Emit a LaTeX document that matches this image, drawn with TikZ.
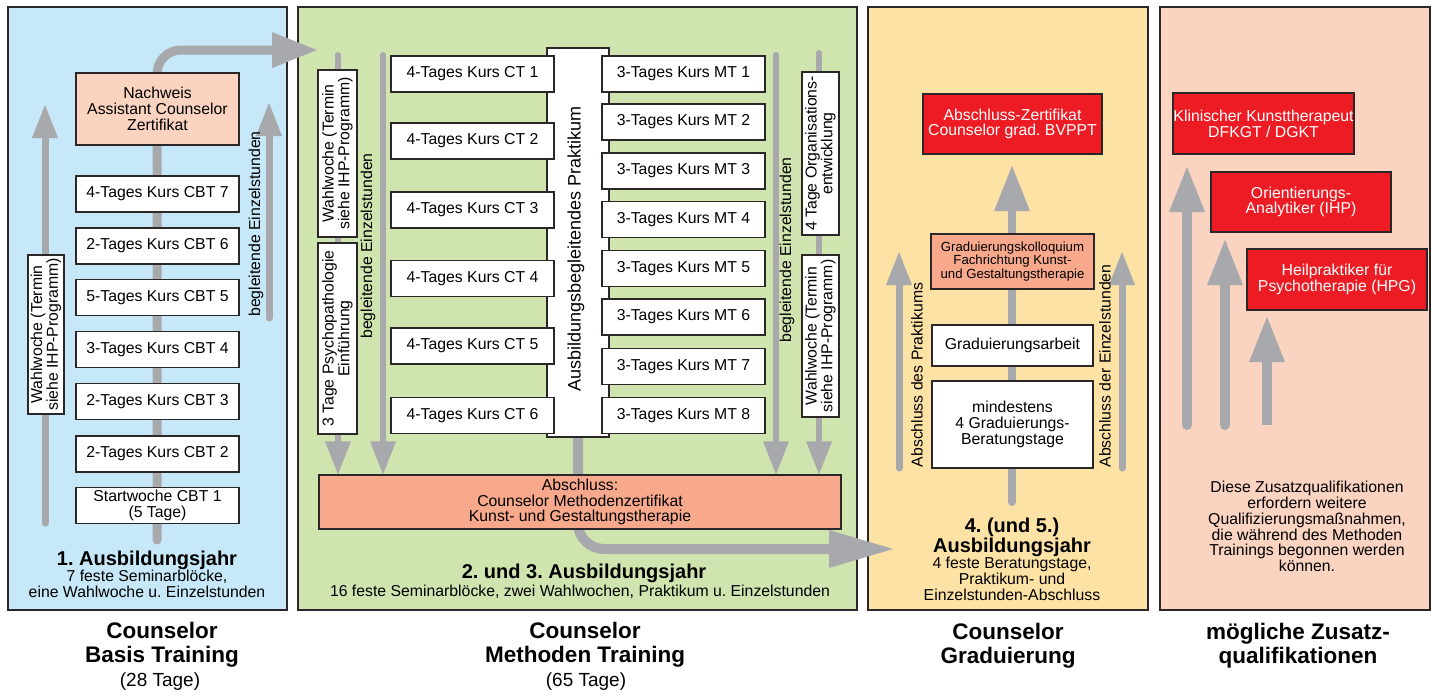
\documentclass[tikz,border=0pt]{standalone}
\usepackage{fontspec}
\setmainfont{Liberation Sans}
\usetikzlibrary{arrows.meta}
\pgfdeclarelayer{panels}
\pgfdeclarelayer{flows}
\pgfsetlayers{panels,flows,main}
\definecolor{bc}{HTML}{2B2728}
\definecolor{blueP}{HTML}{C6E8F9}
\definecolor{greenP}{HTML}{D0E4AF}
\definecolor{yellowP}{HTML}{FDE2A6}
\definecolor{peachP}{HTML}{FAD3C1}
\definecolor{salmon}{HTML}{F8A98C}
\definecolor{redB}{HTML}{ED1C24}
\definecolor{flow}{HTML}{A7A9AC}
\newcommand\fsN{\fontsize{15.8}{15.8}\selectfont}
\newcommand\fsS{\fontsize{13.2}{13.7}\selectfont}
\newcommand\fsP{\fontsize{18}{20}\selectfont}
\newcommand\fsH{\bfseries\fontsize{20}{20}\selectfont}
\newcommand\fsT{\bfseries\fontsize{22.5}{24}\selectfont}
\newcommand\fsD{\fontsize{19}{24}\selectfont}
\newcommand\fsB{\fontsize{15.8}{16}\selectfont}
\frenchspacing
\begin{document}
\frenchspacing
\begin{tikzpicture}[x=1pt,y=-1pt,
  panel/.style={draw=bc,line width=1.5pt,inner sep=0pt},
  box/.style={draw=bc,line width=1.4pt,inner sep=0pt,align=center,font=\fsN,fill=white},
  cbox/.style={box,minimum width=163pt,minimum height=36pt},
  rbox/.style={box,rotate=90},
  redbox/.style={box,fill=redB,text=white},
  salbox/.style={box,fill=salmon},
  lbl/.style={font=\fsN,align=center,inner sep=0pt},
  rlbl/.style={lbl,rotate=90},
  flowline/.style={draw=flow,line width=#1,line cap=round},
  tipS/.style={-{Triangle[length=33pt,width=26pt,line width=0pt]}},
  tipM/.style={-{Triangle[length=45pt,width=36pt,line width=0pt]}},
  tipL/.style={-{Triangle[length=64pt,width=38pt,line width=0pt]}},
]
\useasboundingbox (0,0) rectangle (1432,697);

\begin{pgfonlayer}{panels}
\node[panel,fill=blueP,minimum width=279pt,minimum height=603pt] (p1) at (147.5,308.5) {};
\node[panel,fill=greenP,minimum width=559pt,minimum height=603pt] (p2) at (577.5,308.5) {};
\node[panel,fill=yellowP,minimum width=280pt,minimum height=603pt] (p3) at (1008,308.5) {};
\node[panel,fill=peachP,minimum width=270pt,minimum height=603pt] (p4) at (1295,308.5) {};
\end{pgfonlayer}

% ---------- panel 1
\node[box,fill=peachP,minimum width=163pt,minimum height=72pt] (nach) at (157.5,109) {Nachweis\\Assistant Counselor\\Zertifikat};
\node[cbox] (cbt7) at (157.5,194) {4-Tages Kurs CBT 7};
\node[cbox] (cbt6) at (157.5,246) {2-Tages Kurs CBT 6};
\node[cbox] (cbt5) at (157.5,297.5) {5-Tages Kurs CBT 5};
\node[cbox] (cbt4) at (157.5,349.5) {3-Tages Kurs CBT 4};
\node[cbox] (cbt3) at (157.5,401.5) {2-Tages Kurs CBT 3};
\node[cbox] (cbt2) at (157.5,454) {2-Tages Kurs CBT 2};
\node[cbox] (cbt1) at (157.5,505.5) {Startwoche CBT 1\\(5 Tage)};
\node[rbox,minimum width=159pt,minimum height=36pt] (wahl1) at (46,334.5) {Wahlwoche (Termin\\siehe IHP-Programm)};
\node[rlbl] (beg1) at (256,224) {begleitende Einzelstunden};
\node[lbl,font=\fsH] (jahr1) at (147,560) {1. Ausbildungsjahr};
\node[lbl,font=\fsB] (jahr1s) at (147,584) {7 feste Seminarblöcke,\\eine Wahlwoche u. Einzelstunden};
\node[lbl,font=\fsT] (ti1) at (162,645) {Counselor\\Basis Training};
\node[lbl,font=\fsD] (ti1d) at (160,682) {(28 Tage)};

% ---------- panel 2
\node[rbox,minimum width=167pt,minimum height=39pt] (wahl2) at (337.5,153.5) {Wahlwoche (Termin\\siehe IHP-Programm)};
\node[rbox,minimum width=191pt,minimum height=39pt] (psych) at (337.5,338.5) {3 Tage Psychopathologie\\Einführung};
\node[box,minimum width=62pt,minimum height=389pt] (prak) at (578,242.5) {};
\node[rlbl,font=\fsP] (praktxt) at (576,249) {Ausbildungsbegleitendes Praktikum};
\node[cbox] (ct1) at (472.5,74) {4-Tages Kurs CT 1};
\node[cbox] (ct2) at (472.5,141) {4-Tages Kurs CT 2};
\node[cbox] (ct3) at (472.5,210) {4-Tages Kurs CT 3};
\node[cbox] (ct4) at (472.5,278.5) {4-Tages Kurs CT 4};
\node[cbox] (ct5) at (472.5,346) {4-Tages Kurs CT 5};
\node[cbox] (ct6) at (472.5,415.5) {4-Tages Kurs CT 6};
\node[cbox] (mt1) at (683.5,74) {3-Tages Kurs MT 1};
\node[cbox] (mt2) at (683.5,122) {3-Tages Kurs MT 2};
\node[cbox] (mt3) at (683.5,171) {3-Tages Kurs MT 3};
\node[cbox] (mt4) at (683.5,219.5) {3-Tages Kurs MT 4};
\node[cbox] (mt5) at (683.5,268.5) {3-Tages Kurs MT 5};
\node[cbox] (mt6) at (683.5,317) {3-Tages Kurs MT 6};
\node[cbox] (mt7) at (683.5,366.5) {3-Tages Kurs MT 7};
\node[cbox] (mt8) at (683.5,415.5) {3-Tages Kurs MT 8};
\node[rbox,minimum width=163pt,minimum height=37pt] (org) at (820.5,153.5) {4 Tage Organisations-\\entwicklung};
\node[rbox,minimum width=162pt,minimum height=37pt] (wahl3) at (820.5,336) {Wahlwoche (Termin\\siehe IHP-Programm)};
\node[salbox,minimum width=522pt,minimum height=54pt] (abs) at (580,502) {Abschluss:\\Counselor Methodenzertifikat\\Kunst- und Gestaltungstherapie};
\node[rlbl] (beg2) at (368,246) {begleitende Einzelstunden};
\node[rlbl] (beg3) at (787,250) {begleitende Einzelstunden};
\node[lbl,font=\fsH] (jahr2) at (584,573) {2. und 3. Ausbildungsjahr};
\node[lbl,font=\fsB] (jahr2s) at (580,592) {16 feste Seminarblöcke, zwei Wahlwochen, Praktikum u. Einzelstunden};
\node[lbl,font=\fsT] (ti2) at (585,645) {Counselor\\Methoden Training};
\node[lbl,font=\fsD] (ti2d) at (586,682) {(65 Tage)};

% ---------- panel 3
\node[redbox,minimum width=179pt,minimum height=60pt] (zert) at (1012.5,124) {Abschluss-Zertifikat\\Counselor grad. BVPPT};
\node[salbox,font=\fsS,minimum width=163pt,minimum height=55pt] (koll) at (1012.5,261.5) {Graduierungskolloquium\\Fachrichtung Kunst-\\und Gestaltungstherapie};
\node[box,minimum width=161pt,minimum height=41pt] (arb) at (1012.5,345.5) {Graduierungsarbeit};
\node[box,font=\fsB,minimum width=161pt,minimum height=87pt] (mind) at (1012.5,424.5) {mindestens\\4 Graduierungs-\\Beratungstage};
\node[rlbl] (absP) at (917,375) {Abschluss des Praktikums};
\node[rlbl] (absE) at (1105,366) {Abschluss der Einzelstunden};
\node[lbl,font=\fsH] (jahr3) at (1012,537) {4. (und 5.)\\Ausbildungsjahr};
\node[lbl,font=\fsB] (jahr3s) at (1012,579) {4 feste Beratungstage,\\Praktikum- und\\Einzelstunden-Abschluss};
\node[lbl,font=\fsT] (ti3) at (1008,646) {Counselor\\Graduierung};

% ---------- panel 4
\node[redbox,minimum width=181pt,minimum height=61pt] (klin) at (1263.5,123.5) {Klinischer Kunsttherapeut\\DFKGT / DGKT};
\node[redbox,minimum width=180pt,minimum height=60pt] (orient) at (1301,202) {Orientierungs-\\Analytiker (IHP)};
\node[redbox,minimum width=180pt,minimum height=61pt] (heil) at (1337,279.5) {Heilpraktiker für\\Psychotherapie (HPG)};
\node[lbl] (zus) at (1307,526.5) {Diese Zusatzqualifikationen\\erfordern weitere\\Qualifizierungsmaßnahmen,\\die während des Methoden\\Trainings begonnen werden\\können.};
\node[lbl,font=\fsT] (ti4) at (1298,646) {mögliche Zusatz-\\qualifikationen};

% ---------- flows
\begin{pgfonlayer}{flows}
\coordinate (f1s) at (157,540);
\coordinate (f1e) at (317,50);
\draw[flowline=9pt,rounded corners=24pt,tipM] (f1s) |- (f1e);
\coordinate (l1s) at (45,523);
\coordinate (l1e) at (45,105);
\draw[flowline=7pt,tipS] (l1s) -- (l1e);
\coordinate (r1s) at (269,318);
\coordinate (r1e) at (269,103);
\draw[flowline=7pt,tipS] (r1s) -- (r1e);

\coordinate (w2s) at (338,55);
\draw[flowline=6pt,tipS] (w2s) -- (w2s |- abs.north);
\coordinate (b2s) at (383,55);
\draw[flowline=6pt,tipS] (b2s) -- (b2s |- abs.north);
\coordinate (b3s) at (776,55);
\draw[flowline=6pt,tipS] (b3s) -- (b3s |- abs.north);
\coordinate (o2s) at (819,53);
\draw[flowline=6pt,tipS] (o2s) -- (o2s |- abs.north);
\coordinate (f2e) at (893,549);
\draw[flowline=10pt,rounded corners=26pt,tipL] (prak.south) |- (f2e);

\coordinate (g3s) at (1012,502);
\coordinate (g3e) at (1012,166);
\draw[flowline=8pt,tipM] (g3s) -- (g3e);
\coordinate (gl3s) at (899,468);
\coordinate (gl3e) at (899,252);
\draw[flowline=7pt,tipS] (gl3s) -- (gl3e);
\coordinate (gr3s) at (1122,468);
\coordinate (gr3e) at (1122,252);
\draw[flowline=7pt,tipS] (gr3s) -- (gr3e);

\coordinate (z1s) at (1187,425);
\coordinate (z1e) at (1187,167);
\draw[flowline=10pt,tipM] (z1s) -- (z1e);
\coordinate (z2s) at (1225,425);
\coordinate (z2e) at (1225,240);
\draw[flowline=10pt,tipM] (z2s) -- (z2e);
\coordinate (z3s) at (1267,425);
\coordinate (z3e) at (1267,317);
\draw[flowline=10pt,line cap=butt,tipM] (z3s) -- (z3e);
\end{pgfonlayer}
\end{tikzpicture}
\end{document}
